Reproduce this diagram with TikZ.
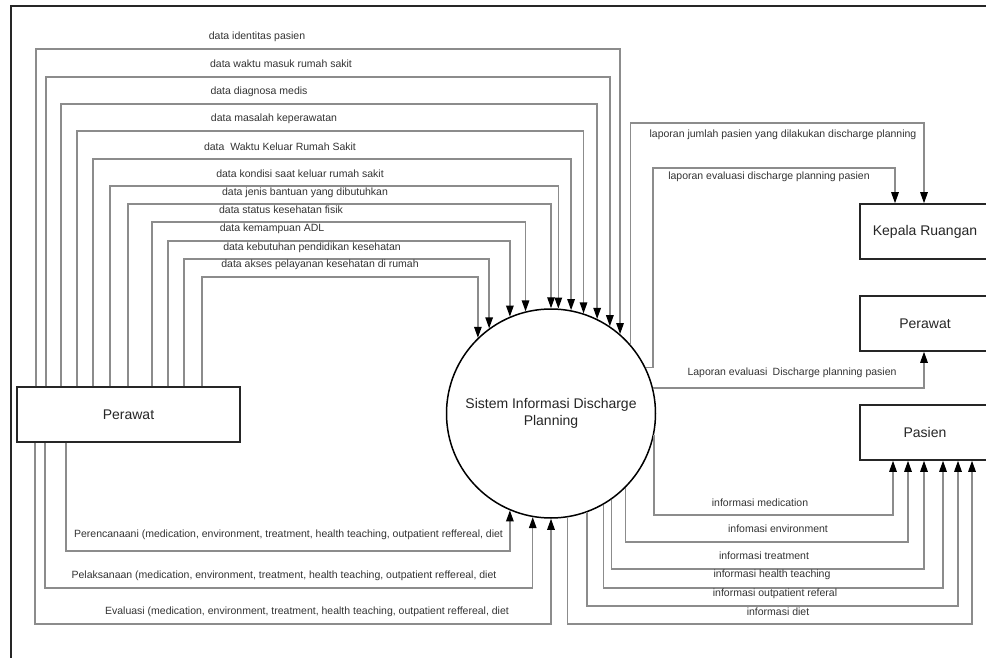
\documentclass[tikz,border=0pt]{standalone}
\usepackage{fontspec}
\setmainfont{Liberation Sans}
\usetikzlibrary{arrows.meta}
\definecolor{linegray}{HTML}{8C8C8C}
\definecolor{txt}{HTML}{333333}
\begin{document}
\begin{tikzpicture}[x=1pt,y=-1pt,
  flow/.style={draw=linegray,line width=1.3pt,-{Triangle[length=11pt,width=7.5pt,color=black]}},
  lbl/.style={font=\fontsize{10.5}{12}\selectfont,text=txt,inner sep=0pt},
  ent/.style={draw=black!85,line width=1.5pt,minimum height=55pt,font=\fontsize{14}{17}\selectfont,text=black!85,inner sep=0pt},
  proc/.style={circle,draw=black,line width=1.5pt,minimum size=209pt,inner sep=0pt,align=center,font=\fontsize{14}{17}\selectfont,text=black!85}]
\useasboundingbox (0,0) rectangle (986,658);
\clip (0,0) rectangle (986,658);
\fill[white] (0,0) rectangle (986,658);
% frame
\draw[line width=2pt,black!85] (11,6) rectangle (1010,700);
% entities and process
\node[ent,minimum width=223pt] (P) at (128.5,414.5) {Perawat};
\node[ent,minimum width=130pt] (K) at (925,231.5) {Kepala Ruangan};
\node[ent,minimum width=130pt] (PR) at (925,323.5) {Perawat};
\node[ent,minimum width=130pt] (Pa) at (925,432.5) {Pasien};
\node[proc] (sys) at (551,413.5) {Sistem Informasi Discharge\\Planning};
% top flows Perawat -> system
\foreach \i/\xl/\yh/\ang/\lx/\ly/\txt in {
  1/36/49/49.6/257/37/{data identitas pasien},
  2/46/77/56.5/281/64/{data waktu masuk rumah sakit},
  3/61/104/64.6/259/92/{data diagnosa medis},
  4/77/131/72.8/274/119/{data masalah keperawatan},
  5/93/159/79.6/280/147/{data\hspace{0.55em}Waktu Keluar Rumah Sakit},
  6/110/186/86.7/300/174/{data kondisi saat keluar rumah sakit},
  7/128/204/90.5/305/193/{data jenis bantuan yang dibutuhkan},
  8/152/222/104.3/281/210/{data status kesehatan fisik},
  9/168/241/113.6/272/229/{data kemampuan ADL},
  10/184/259/126.2/312/248/{data kebutuhan pendidikan kesehatan},
  11/202/277/134.0/320/265/{data akses pelayanan kesehatan di rumah}}{
  \draw[flow] (\xl,0 |- P.north) -- (\xl,\yh) -| (sys.\ang);
  \node[lbl] (t\i) at (\lx,\ly) {\txt};
}
% bottom flows Perawat -> system
\draw[flow] (66,0 |- P.south) -- (66,551) -| (sys.-113.6);
\node[lbl] (b1) at (288.5,535) {Perencanaani (medication, environment, treatment, health teaching, outpatient reffereal, diet};
\draw[flow] (45,0 |- P.south) -- (45,588) -| (sys.-100.4);
\node[lbl] (b2) at (284,576) {Pelaksanaan (medication, environment, treatment, health teaching, outpatient reffereal, diet};
\draw[flow] (35,0 |- P.south) -- (35,624) -| (sys.-90);
\node[lbl] (b3) at (307,612) {Evaluasi (medication, environment, treatment, health teaching, outpatient reffereal, diet};
% system -> Kepala Ruangan / Perawat
\draw[flow] (sys.41.7) |- (924,123) -- (924,0 |- K.north);
\node[lbl] (r1) at (783,135) {laporan jumlah pasien yang dilakukan discharge planning};
\draw[flow] (sys.26) -- (653,0 |- sys.26) |- (895,168) -- (895,0 |- K.north);
\node[lbl] (r2) at (769,177) {laporan evaluasi discharge planning pasien};
\draw[flow] (sys.14.4) -| (924,0 |- PR.south);
\node[lbl] (r3) at (792,373) {Laporan evaluasi\hspace{0.5em}Discharge planning pasien};
% system -> Pasien
\draw[flow] (sys.-12) |- (893,515) -- (893,0 |- Pa.south);
\node[lbl] (p1) at (760,503) {informasi medication};
\draw[flow] (sys.-45.2) |- (908,542) -- (908,0 |- Pa.south);
\node[lbl] (p2) at (778,529) {infomasi environment};
\draw[flow] (sys.-55.2) |- (924,569) -- (924,0 |- Pa.south);
\node[lbl] (p3) at (764,556) {informasi treatment};
\draw[flow] (sys.-60.9) |- (943,588) -- (943,0 |- Pa.south);
\node[lbl] (p4) at (772,575) {informasi health teaching};
\draw[flow] (sys.-70.5) |- (958,606) -- (958,0 |- Pa.south);
\node[lbl] (p5) at (775,594) {informasi outpatient referal};
\draw[flow] (sys.-81.2) |- (972,624) -- (972,0 |- Pa.south);
\node[lbl] (p6) at (778,612) {informasi diet};
\end{tikzpicture}
\end{document}
